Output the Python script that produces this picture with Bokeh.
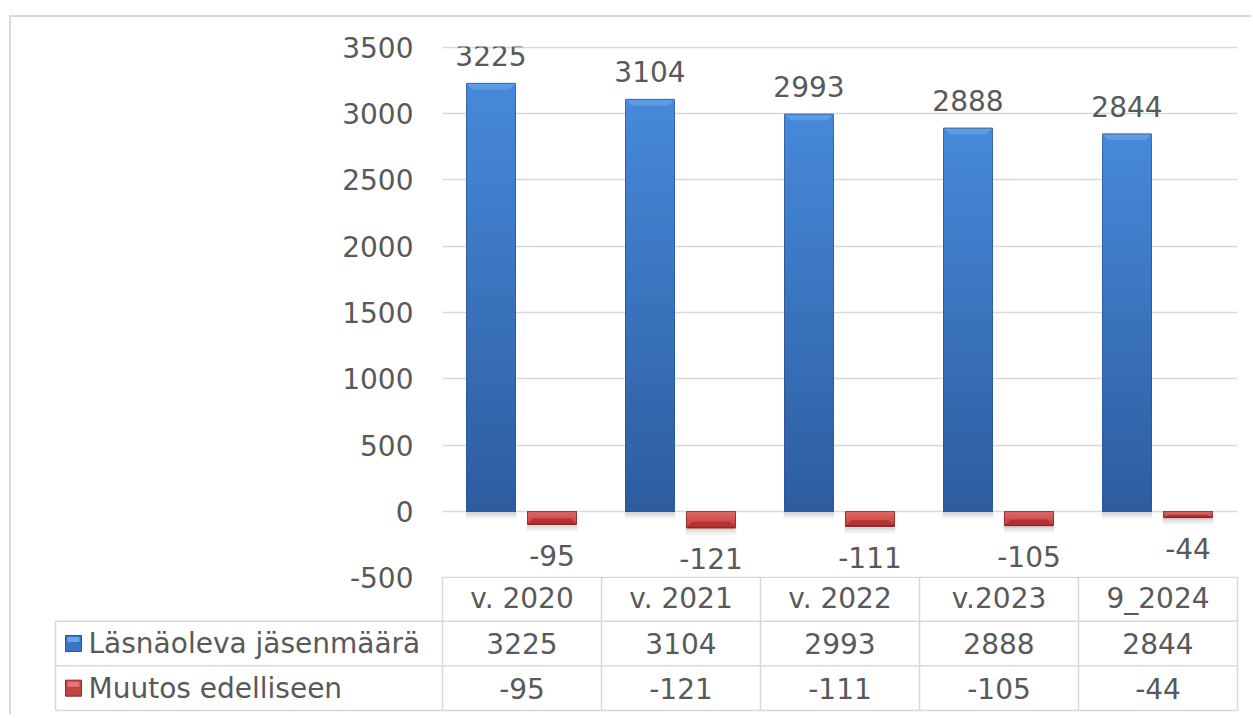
from bokeh.plotting import figure
from bokeh.models import Range1d, FixedTicker, PrintfTickFormatter
from bokeh.embed import file_html
from bokeh.resources import INLINE
from bokeh.core.properties import value

# ---- data ----
categories = ["v. 2020", "v. 2021", "v. 2022", "v.2023", "9_2024"]
series_names = ["Läsnäoleva jäsenmäärä", "Muutos edelliseen"]
members = [3225, 3104, 2993, 2888, 2844]
change = [-95, -121, -111, -105, -44]
y_ticks = [-500, 0, 500, 1000, 1500, 2000, 2500, 3000, 3500]

FONT = value("DejaVu Sans")
TXT = "#595959"
GRID = "#d9d9d9"
FS = "28px"
BORDER = "2px solid #d9d9d9"

PX_X = 159.0            # pixels per category
N = len(categories)
centers = [i + 0.5 for i in range(N)]
BW = 49 / PX_X          # bar width in category units
OFF_B = -31 / PX_X
OFF_R = 30 / PX_X


def hexmix(c1, c2, t):
    a = [int(c1[i:i + 2], 16) for i in (1, 3, 5)]
    b = [int(c2[i:i + 2], 16) for i in (1, 3, 5)]
    return "#%02x%02x%02x" % tuple(round(a[k] + (b[k] - a[k]) * t) for k in range(3))


# ---------------- chart ----------------
p = figure(width=1242, height=581, x_range=Range1d(0, N), y_range=Range1d(-504, 3504),
           output_backend="svg", toolbar_location=None,
           x_axis_location=None, min_border_left=431, min_border_right=16,
           min_border_top=29, min_border_bottom=20,
           margin=(15, 0, 0, 9), styles={"border-top": BORDER, "border-left": BORDER})
p.outline_line_color = None
p.xgrid.visible = False
p.ygrid.ticker = FixedTicker(ticks=y_ticks)
p.ygrid.grid_line_color = GRID
p.ygrid.grid_line_width = 1.5
ax = p.yaxis[0]
ax.ticker = FixedTicker(ticks=y_ticks)
ax.formatter = PrintfTickFormatter(format="%d")
ax.axis_line_color = None
ax.major_tick_line_color = None
ax.minor_tick_line_color = None
ax.major_tick_out = 0
ax.major_label_standoff = 29
ax.major_label_text_font = "DejaVu Sans"
ax.major_label_text_font_size = FS
ax.major_label_text_color = TXT

PX_Y = 532 / 4008.0     # pixels per value unit
BEV_Y = 6 / PX_Y
BEV_X = 6 / PX_X
NB = 40


def draw_bar(xc, v, c_base, c_far, bevel_col, edge_col, hi_col):
    l, r = xc - BW / 2, xc + BW / 2
    low = min(v, 0)
    s = 1.6 / PX_Y
    for k, a in enumerate([0.16, 0.11, 0.07, 0.035]):
        p.quad(left=l - 0.005, right=r + 0.005, bottom=low - (k + 1) * s - 1 / PX_Y,
               top=low - k * s - 1 / PX_Y, fill_color="black", fill_alpha=a, line_color=None)
    # gradient body: nested quads drawn largest first (no seams)
    bots, tops, cols = [], [], []
    for k in range(NB - 1, -1, -1):
        y1 = v * (k + 1) / NB
        bots.append(min(0, y1)); tops.append(max(0, y1))
        cols.append(hexmix(c_base, c_far, k / (NB - 1)))
    p.quad(left=[l] * NB, right=[r] * NB, bottom=bots, top=tops, fill_color=cols,
           line_color=None)
    # bevel at far end
    b = min(BEV_Y, abs(v) * 0.45)
    sgn = 1 if v > 0 else -1
    xs = [l, r, r - BEV_X, l + BEV_X]
    ys = [v, v, v - sgn * b, v - sgn * b]
    p.patch(xs, ys, fill_color=bevel_col, line_color=None)
    p.line([l, r], [v, v], line_color=hi_col, line_width=1.5)
    p.quad(left=l, right=r, bottom=min(0, v), top=max(0, v), fill_color=None,
           line_color=edge_col, line_width=1, line_alpha=0.8)


for i in range(N):
    draw_bar(centers[i] + OFF_B, members[i], "#2d5d9f", "#4689da", "#5c9ce6", "#2a5596", "#7db3ee")
    draw_bar(centers[i] + OFF_R, change[i], "#e26967", "#c03e3d", "#b13231", "#8c2828", "#8c2828")

p.text(x=[c + OFF_B for c in centers], y=members, text=[str(v) for v in members],
       text_align="center", text_baseline="middle", y_offset=-28,
       text_font=FONT, text_font_size=FS, text_color=TXT)
p.text(x=[c + OFF_R for c in centers], y=change, text=[str(v) for v in change],
       text_align="center", text_baseline="middle", y_offset=31,
       text_font=FONT, text_font_size=FS, text_color=TXT)

# ---------------- data table ----------------
PX_T = 44.667
X0 = -(442 - 53) / PX_X
LEG_L = -(442 - 55) / PX_X
t = figure(width=1242, height=138, x_range=Range1d(X0, N + 2 / PX_X),
           y_range=Range1d(-2 / PX_T, 3.0), output_backend="svg", toolbar_location=None,
           x_axis_location=None, y_axis_location=None,
           min_border_left=42, min_border_right=14, min_border_top=0, min_border_bottom=2,
           margin=(-20, 0, -10, 9), styles={"border-left": BORDER})
t.outline_line_color = None
t.xgrid.visible = False
t.ygrid.visible = False
t.background_fill_alpha = 0
t.border_fill_alpha = 0

for yy in [0, 1, 2]:
    t.segment(x0=LEG_L, y0=yy, x1=N, y1=yy, line_color=GRID, line_width=1.5)
for xx in range(N + 1):
    t.segment(x0=xx, y0=0, x1=xx, y1=3, line_color=GRID, line_width=1.5)
t.segment(x0=LEG_L, y0=0, x1=LEG_L, y1=2, line_color=GRID, line_width=1.5)

t.text(x=centers, y=[2.5] * N, text=categories, text_align="center", text_baseline="middle",
       text_font=FONT, text_font_size=FS, text_color=TXT)
t.text(x=centers, y=[1.5] * N, text=[str(v) for v in members], text_align="center",
       text_baseline="middle", text_font=FONT, text_font_size=FS, text_color=TXT)
t.text(x=centers, y=[0.5] * N, text=[str(v) for v in change], text_align="center",
       text_baseline="middle", text_font=FONT, text_font_size=FS, text_color=TXT)

mk_x = LEG_L + 18 / PX_X
t.rect(x=[mk_x, mk_x], y=[1.5, 0.5], width=16, height=16, width_units="screen",
       height_units="screen", fill_color=["#3a74c4", "#c44442"],
       line_color=["#2a5596", "#8c2828"], line_width=1)
t.rect(x=[mk_x, mk_x], y=[1.5 + 4 / PX_T, 0.5 + 4 / PX_T], width=12, height=5,
       width_units="screen", height_units="screen",
       fill_color=["#6aa6ec", "#ea7674"], line_color=None)
t.text(x=[LEG_L + 33 / PX_X] * 2, y=[1.5, 0.5], text=series_names, text_align="left",
       text_baseline="middle", text_font=FONT, text_font_size=FS, text_color=TXT)

open("out.html", "w").write(file_html([p, t], INLINE))
